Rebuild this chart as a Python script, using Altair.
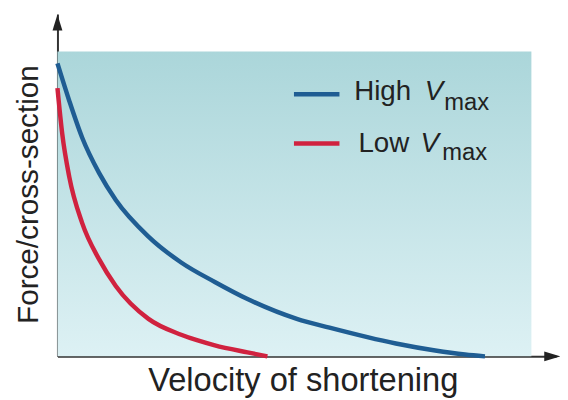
import altair as alt
import pandas as pd

# Curves (x: velocity, y: force, both 0-100 of the shaded box)
high_x = [0, 2.5, 5.2, 8.8, 12.3, 19.2, 26.1, 33.2, 40.1, 50.5, 57.4, 71.4, 79.7, 86.0, 90.2]
high_y = [96.1, 83.8, 71.8, 60.1, 51.3, 39.3, 30.8, 24.4, 18.8, 12.3, 9.4, 4.2, 1.9, 0.6, 0]
low_x = [0, 1.0, 2.5, 5.2, 8.8, 12.3, 19.2, 26.1, 29.6, 33.2, 40.1, 44.3]
low_y = [88.0, 73.1, 58.8, 43.8, 31.8, 23.1, 12.3, 7.1, 5.2, 3.6, 1.3, 0]

series_names = ["High", "Low"]
series_colors = ["#1f5d93", "#d0223f"]

# Legend content
leg_label = ["High", "Low"]
leg_line_x = [49.9, 49.9]
leg_line_x2 = [59.5, 59.5]
leg_line_y = [86.0, 69.8]
leg_text_x = [62.6, 63.5]
leg_text_y = [84.1, 66.9]
leg_v_x = [77.5, 76.6]
leg_sub_x = [81.6, 81.2]
leg_sub_y = [80.8, 64.3]

# Shaded box and axis extents
box_x = [0]
box_x2 = [100]
box_y = [0]
box_y2 = [100]
x_max = 105.2
y_max = 112.3
arrow_x = [0, 104.4]
arrow_y = [109.5, 0]
arrow_shape = ["M0,-1L0.62,1L-0.62,1Z", "M1,0L-1,0.62L-1,-0.62Z"]

FONT = "Liberation Sans"

curves = pd.DataFrame(
    {"x": high_x + low_x,
     "y": high_y + low_y,
     "series": ["High"] * len(high_x) + ["Low"] * len(low_x),
     "order": list(range(len(high_x))) + list(range(len(low_x)))}
)
legend = pd.DataFrame({
    "label": leg_label, "x": leg_line_x, "x2": leg_line_x2, "y": leg_line_y,
    "tx": leg_text_x, "ty": leg_text_y, "vx": leg_v_x, "sx": leg_sub_x, "sy": leg_sub_y,
    "V": ["V", "V"], "sub": ["max", "max"],
})
box = pd.DataFrame({"x": box_x, "x2": box_x2, "y": box_y, "y2": box_y2})
arrows = pd.DataFrame({"x": arrow_x, "y": arrow_y, "shape": arrow_shape})

xs = alt.Scale(domain=[0, x_max], nice=False, zero=False)
ys = alt.Scale(domain=[0, y_max], nice=False, zero=False)

x_axis = alt.Axis(labels=False, ticks=False, grid=False, domainColor="#333333",
                  domainWidth=2, title="Velocity of shortening", titleFont=FONT,
                  titleFontSize=33, titleFontWeight="normal", titleColor="#222222",
                  titleX=248, titleY=35, titleBaseline="alphabetic", titleAlign="center")
y_axis = alt.Axis(labels=False, ticks=False, grid=False, domainColor="#333333",
                  domainWidth=2, title="Force/cross-section", titleFont=FONT,
                  titleFontSize=30, titleFontWeight="normal", titleColor="#222222",
                  titleAngle=270, titleX=-20, titleY=182, titleBaseline="alphabetic",
                  titleAlign="center")

bg = alt.Chart(box).mark_rect(
    fill=alt.Gradient(
        gradient="linear",
        stops=[alt.GradientStop(color="#abd6da", offset=0),
               alt.GradientStop(color="#ddf1f4", offset=1)],
        x1=0, x2=0, y1=0, y2=1,
    )
).encode(
    x=alt.X("x:Q", scale=xs, axis=x_axis),
    x2="x2:Q",
    y=alt.Y("y:Q", scale=ys, axis=y_axis),
    y2="y2:Q",
)

lines = alt.Chart(curves).mark_line(strokeWidth=4.5, interpolate="monotone").encode(
    x=alt.X("x:Q", scale=xs),
    y=alt.Y("y:Q", scale=ys),
    color=alt.Color("series:N", scale=alt.Scale(domain=series_names, range=series_colors),
                    legend=None),
    order="order:Q",
)

leg_lines = alt.Chart(legend).mark_rule(strokeWidth=4.5).encode(
    x=alt.X("x:Q", scale=xs), x2="x2:Q", y=alt.Y("y:Q", scale=ys),
    color=alt.Color("label:N", scale=alt.Scale(domain=series_names, range=series_colors),
                    legend=None),
)
leg_text = alt.Chart(legend).mark_text(
    align="left", baseline="alphabetic", font=FONT, fontSize=28, color="#222222"
).encode(x=alt.X("tx:Q", scale=xs), y=alt.Y("ty:Q", scale=ys), text="label:N")
leg_v = alt.Chart(legend).mark_text(
    align="left", baseline="alphabetic", font=FONT, fontSize=28, fontStyle="italic",
    color="#222222"
).encode(x=alt.X("vx:Q", scale=xs), y=alt.Y("ty:Q", scale=ys), text="V:N")
leg_sub = alt.Chart(legend).mark_text(
    align="left", baseline="alphabetic", font=FONT, fontSize=24, color="#222222"
).encode(x=alt.X("sx:Q", scale=xs), y=alt.Y("sy:Q", scale=ys), text="sub:N")

arrow_pts = alt.Chart(arrows).mark_point(filled=True, size=260, opacity=1,
                                          color="#222222").encode(
    x=alt.X("x:Q", scale=xs), y=alt.Y("y:Q", scale=ys),
    shape=alt.Shape("shape:N", scale=None),
)

chart = alt.layer(bg, lines, leg_lines, leg_text, leg_v, leg_sub, arrow_pts).properties(
    width=504, height=346,
    autosize=alt.AutoSizeParams(type="none"),
    padding={"left": 50, "top": 4, "right": 4, "bottom": 42},
    background="white",
).configure_view(stroke=None)

chart.save("out.html", embed_options={"renderer": "svg", "actions": False})
